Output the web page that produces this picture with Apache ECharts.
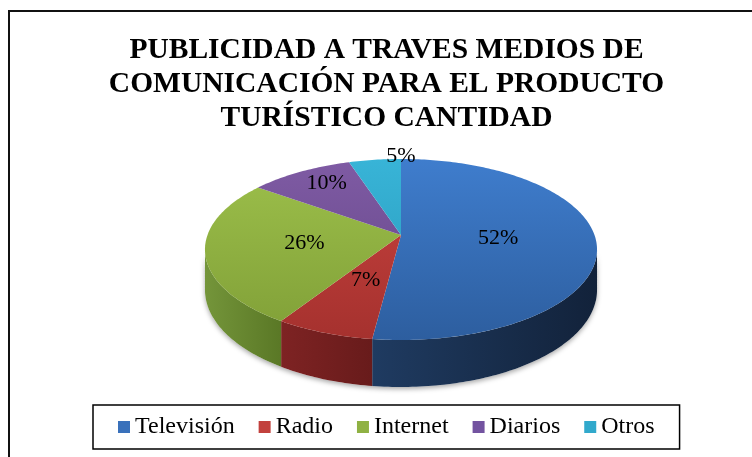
<!DOCTYPE html>
<html>
<head>
    <meta charset="utf-8" />
    <title>Publicidad</title>
    <style>
        html, body { margin: 0; padding: 0; background: #fff; }
        #piechart { width: 752px; height: 457px; }
    </style>
</head>
<body>
    <div id="piechart"></div>
    <script src="https://cdn.jsdelivr.net/npm/echarts@6/dist/echarts.min.js"></script>
    <script>
        // datos
        var categories = ['Televisión', 'Radio', 'Internet', 'Diarios', 'Otros'];
        var percentages = [52, 7, 26, 10, 5];
        var titleText = 'PUBLICIDAD A TRAVES MEDIOS DE\nCOMUNICACIÓN PARA EL PRODUCTO\nTURÍSTICO CANTIDAD';

        // colores: cara superior (claro, oscuro), lateral (claro, oscuro)
        var palette = [
            ['#3F7DCD', '#2D5E9F', '#1F3B61', '#12223A'],
            ['#C9433F', '#A5312E', '#7E2323', '#681B1B'],
            ['#9DC04B', '#809F37', '#74953A', '#5A7826'],
            ['#7F5BA4', '#624485', '#4E3568', '#3E2854'],
            ['#38B4D7', '#2797B9', '#1F7894', '#175F77']
        ];
        var legendColors = ['#3A71BB', '#C2413D', '#8FB143', '#7353A0', '#31A9CC'];

        // proyección del pastel 3D (con perspectiva)
        var cx = 401, cy = 235, rx = 193.5, ry = 88.2, k = 0.16, depth = 39.5;
        var labelPlace = [[0.5, 0], [0.5, 0], [0.5, 0], [0.78, 3], [1.04, 9]];

        var total = 0, starts = [];
        percentages.forEach(function (v) { starts.push(total); total += v; });

        function proj(deg, f) {
            var t = deg * Math.PI / 180;
            var u = f * Math.sin(t), v = f * Math.cos(t);
            var s = 1 / (1 + k * v);
            return [cx + rx * u * s, cy - ry * v * s, s];
        }
        function range(a, b) {
            var out = [];
            for (var d = a; d < b; d += 1) out.push(d);
            out.push(b);
            return out;
        }
        var visA = Math.acos(-k) * 180 / Math.PI;
        var visB = 360 - visA;

        function sliceAngles(i) {
            return [starts[i] / total * 360, (starts[i] + percentages[i]) / total * 360];
        }

        function renderWall(params, api) {
            var i = params.dataIndex;
            var ang = sliceAngles(i);
            var children = [];
            if (i === 0) {
                // sombra bajo el pastel
                var sil = range(visA, visB).map(function (d) { return proj(d, 1); });
                var pts = sil.map(function (p) { return [p[0], p[1]]; })
                    .concat(sil.slice().reverse().map(function (p) { return [p[0], p[1] + depth * p[2]]; }));
                children.push({
                    type: 'polygon', z2: -1, shape: { points: pts },
                    style: { fill: '#fff', shadowColor: 'rgba(0,0,0,0.35)', shadowBlur: 5, shadowOffsetY: 2 }
                });
            }
            var a = Math.max(ang[0], visA), b = Math.min(ang[1], visB);
            if (b > a) {
                var arc = range(a, b).map(function (d) { return proj(d, 1); });
                var poly = arc.map(function (p) { return [p[0], p[1]]; })
                    .concat(arc.slice().reverse().map(function (p) { return [p[0], p[1] + depth * p[2]]; }));
                children.push({
                    type: 'polygon', shape: { points: poly },
                    style: {
                        fill: {
                            type: 'linear', x: 0, y: 0, x2: 1, y2: 0,
                            colorStops: [{ offset: 0, color: palette[i][2] }, { offset: 1, color: palette[i][3] }]
                        }
                    }
                });
            }
            return { type: 'group', children: children };
        }

        function renderTop(params, api) {
            var i = params.dataIndex;
            var ang = sliceAngles(i);
            var pts = [[cx, cy]].concat(range(ang[0], ang[1]).map(function (d) {
                var p = proj(d, 1);
                return [p[0], p[1]];
            }));
            var lp = proj((ang[0] + ang[1]) / 2 + labelPlace[i][1], labelPlace[i][0]);
            return {
                type: 'group',
                children: [{
                    type: 'polygon', shape: { points: pts },
                    style: {
                        fill: {
                            type: 'linear', x: 0, y: 159, x2: 0, y2: 340, global: true,
                            colorStops: [{ offset: 0, color: palette[i][0] }, { offset: 1, color: palette[i][1] }]
                        }
                    }
                }, {
                    type: 'text', x: lp[0], y: lp[1], z2: 10,
                    style: {
                        text: Math.round(percentages[i] / total * 100) + '%',
                        fill: '#000', fontSize: 22, fontFamily: 'Liberation Serif',
                        align: 'center', verticalAlign: 'middle'
                    }
                }]
            };
        }

        var option = {
            backgroundColor: '#fff',
            animation: false,
            title: {
                text: titleText,
                left: 381.5,
                top: 28,
                textAlign: 'center',
                textStyle: {
                    fontFamily: 'Liberation Serif',
                    fontWeight: 'bold',
                    fontSize: 29.5,
                    lineHeight: 34,
                    color: '#000'
                }
            },
            legend: {
                data: categories,
                left: 93,
                top: 405,
                icon: 'rect',
                itemWidth: 12,
                itemHeight: 12,
                itemGap: 24,
                padding: [10, 25, 10, 25],
                borderColor: '#000',
                borderWidth: 1.5,
                textStyle: { fontFamily: 'Liberation Serif', fontSize: 24, color: '#000' }
            },
            graphic: [{
                type: 'rect', silent: true, z: -10,
                shape: { x: 9, y: 11, width: 800, height: 500 },
                style: { fill: 'none', stroke: '#111', lineWidth: 2 }
            }],
            series: [{
                type: 'custom',
                name: 'lateral',
                coordinateSystem: 'none',
                z: 1,
                silent: true,
                renderItem: renderWall,
                data: percentages.map(function (v, i) { return { name: categories[i], value: v }; })
            }, {
                type: 'custom',
                name: 'superior',
                coordinateSystem: 'none',
                z: 2,
                silent: true,
                renderItem: renderTop,
                data: percentages.map(function (v, i) { return { name: categories[i], value: v }; })
            }, {
                // solo para la leyenda
                type: 'pie',
                center: [-500, -500],
                radius: [0, 1],
                silent: true,
                label: { show: false },
                data: percentages.map(function (v, i) {
                    return { name: categories[i], value: v, itemStyle: { color: legendColors[i] } };
                })
            }]
        };

        var pieChart = echarts.init(document.getElementById('piechart'));
        pieChart.setOption(option);
    </script>
</body>
</html>
